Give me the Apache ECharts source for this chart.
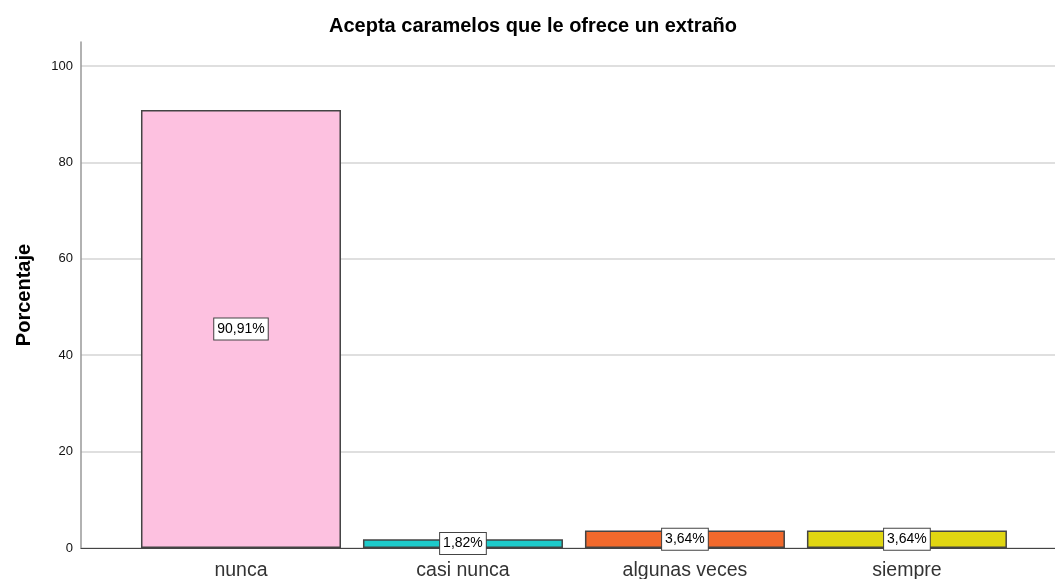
<!DOCTYPE html>
<html>
<head>
<meta charset="utf-8">
<script src="https://cdn.jsdelivr.net/npm/echarts@6/dist/echarts.min.js"></script>
<style>
  html, body { margin: 0; padding: 0; background: #fff; }
  #chart { width: 1055px; height: 579px; }
</style>
</head>
<body>
<div id="chart"></div>
<script>
  // datos
  var categories = ["nunca", "casi nunca", "algunas veces", "siempre"];
  var values = [90.91, 1.82, 3.64, 3.64];
  var colors = ["#fdc1e0", "#1ecbcb", "#f2692c", "#e0d612"];
  var yTicks = [0, 20, 40, 60, 80, 100];

  var myChart = echarts.init(document.getElementById("chart"));
  var font = "Arial, 'Liberation Sans', sans-serif";

  var barData = values.map(function (v, i) {
    return {
      value: [i, v],
      itemStyle: { color: colors[i] }
    };
  });

  var option = {
    animation: false,
    title: {
      text: "Acepta caramelos que le ofrece un extraño",
      left: 528,
      textAlign: "center",
      top: 11,
      textStyle: { fontFamily: font, fontSize: 20, fontWeight: "bold", color: "#000" }
    },
    grid: { left: 81, right: 0, top: 42, bottom: 31, outerBoundsMode: "none", containLabel: false },
    xAxis: {
      type: "value",
      min: -0.7207,
      max: 3.667,
      splitLine: { show: false },
      axisTick: { show: false },
      axisLine: { show: true, onZero: false, lineStyle: { color: "#444", width: 1 } },
      axisLabel: {
        customValues: [0, 1, 2, 3],
        formatter: function (v) { return categories[Math.round(v)]; },
        fontFamily: font,
        fontSize: 19.5,
        color: "#333",
        margin: 13
      }
    },
    yAxis: {
      type: "value",
      min: 0,
      max: 105,
      interval: 20,
      name: "Porcentaje",
      nameLocation: "middle",
      nameGap: 47,
      nameTextStyle: { fontFamily: font, fontSize: 20, fontWeight: "bold", color: "#000" },
      axisLine: { show: true, onZero: false, lineStyle: { color: "#999", width: 1.5 } },
      axisTick: { show: false },
      axisLabel: {
        fontFamily: font,
        fontSize: 13,
        color: "#111",
        margin: 8,
        formatter: function (v) { return yTicks.indexOf(v) >= 0 ? String(v) : ""; }
      },
      splitLine: { show: true, showMaxLine: false, lineStyle: { color: "#d4d4d4", width: 1.5 } }
    },
    series: [{
      type: "bar",
      barWidth: 200,
      data: barData,
      itemStyle: { borderColor: "#444", borderWidth: 1.5 },
      label: {
        show: true,
        position: "inside",
        formatter: function (p) { return p.value[1].toFixed(2).replace(".", ",") + "%"; },
        fontFamily: font,
        fontSize: 14,
        color: "#000",
        backgroundColor: "#fff",
        borderColor: "#444",
        borderWidth: 1,
        padding: [4, 3, 3, 3]
      }
    }]
  };

  myChart.setOption(option);
</script>
</body>
</html>
